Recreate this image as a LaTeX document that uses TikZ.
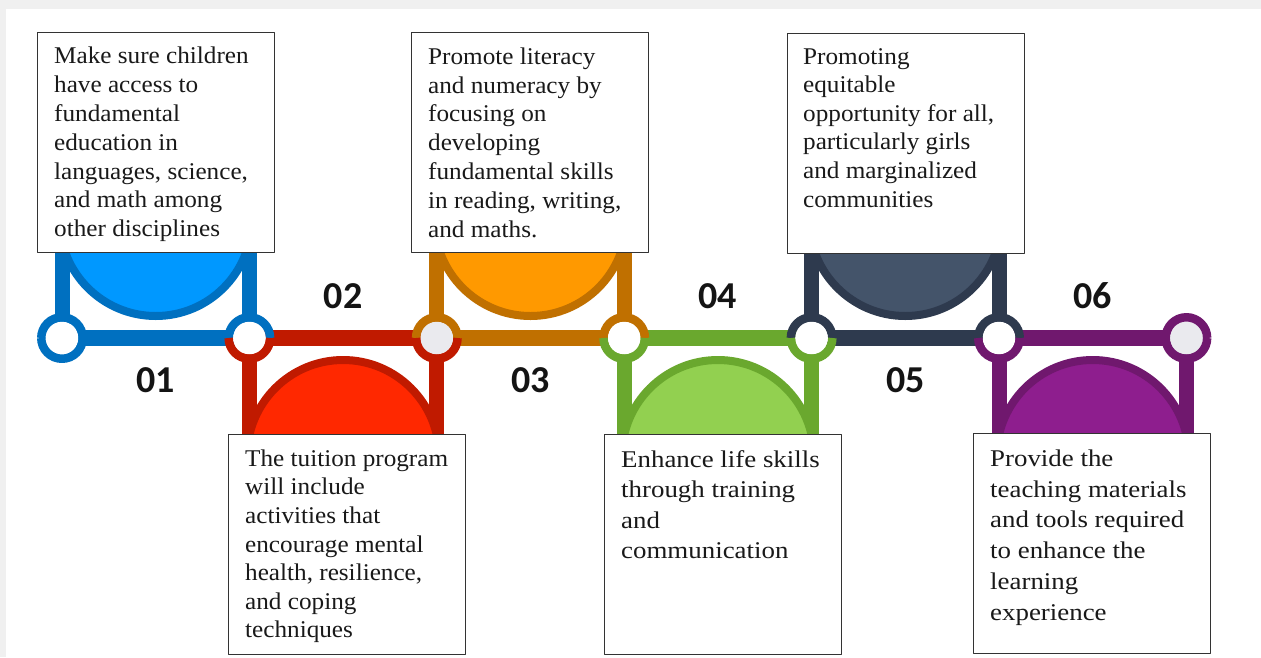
\documentclass[tikz,border=0pt]{standalone}
\usepackage{fontspec}
\setmainfont{Liberation Serif}
\newfontfamily\numfont{Carlito}
\newfontfamily\cambfont[FakeStretch=1.05]{Liberation Serif}
\newfontfamily\timesfont[FakeStretch=1.12]{Liberation Serif}
\usetikzlibrary{calc}

\definecolor{blueD}{RGB}{0,112,192}
\definecolor{blueL}{RGB}{0,152,255}
\definecolor{redD}{RGB}{192,26,0}
\definecolor{redL}{RGB}{255,40,0}
\definecolor{orangeD}{RGB}{192,112,0}
\definecolor{orangeL}{RGB}{255,153,0}
\definecolor{greenD}{RGB}{106,168,46}
\definecolor{greenL}{RGB}{146,208,80}
\definecolor{slateD}{RGB}{46,58,78}
\definecolor{slateL}{RGB}{68,84,106}
\definecolor{purpleD}{RGB}{112,24,110}
\definecolor{purpleL}{RGB}{142,30,142}
\definecolor{hole}{RGB}{234,234,238}

\begin{document}
\begin{tikzpicture}[x=1pt, y=-1pt, line join=round,
	bar/.style={line width=15.5pt},
	post/.style={line width=15pt},
	ring/.style={line width=8.5pt},
	bowl/.style={line width=8pt},
	textbox/.style={draw=black!80, line width=1.2pt, fill=white, anchor=north west, inner sep=0pt, minimum width=237pt, minimum height=220pt},
	boxtext/.style={anchor=north west, align=left, inner sep=0pt, text=black!90},
	num/.style={font=\numfont\bfseries\fontsize{38}{40}\selectfont, text=black!92}]

	\fill[black!6] (0,0) rectangle (1261,657);
	\fill[white] (6,9) rectangle (1261,657);
	\useasboundingbox (0,0) rectangle (1261,657);

	\foreach \i in {0,...,6}
	\coordinate (c\i) at (62+187.4*\i,338);

	% segments: up (-1) or down (1)
	\foreach \a/\b/\cd/\cl/\s [count=\n] in {0/1/blueD/blueL/-1, 1/2/redD/redL/1, 2/3/orangeD/orangeL/-1, 3/4/greenD/greenL/1, 4/5/slateD/slateL/-1, 5/6/purpleD/purpleL/1}
	{
		\coordinate (m\n) at ($(c\a)!0.5!(c\b)$);
		\draw[bar, \cd] (c\a)--(c\b);
		\draw[post, \cd] (c\a)--++(0,\s*110) (c\b)--++(0,\s*110);
		\draw[bowl, draw=\cd, fill=\cl] ($(m\n)+(0,\s*118)$) circle (96);
		\node[num] (n\n) at ($(m\n)+(0,-\s*42)$) {0\n};
	}

	% rings: top half / bottom half
	\foreach \i/\ct/\cb/\ci in {0/blueD/blueD/white, 1/blueD/redD/white, 2/orangeD/redD/hole, 3/orangeD/greenD/white, 4/slateD/greenD/white, 5/slateD/purpleD/white, 6/purpleD/purpleD/hole}
	{
		\fill[\ci] (c\i) circle (16.5);
		\draw[ring, \ct] ([shift={(180:20.75)}]c\i) arc[start angle=180, end angle=360, radius=20.75];
		\draw[ring, \cb] ([shift={(0:20.75)}]c\i) arc[start angle=0, end angle=180, radius=20.75];
	}

	\node[textbox] (b1) at (37,32) {};
	\node[textbox] (b2) at (228,434) {};
	\node[textbox] (b3) at (411,32) {};
	\node[textbox] (b4) at (604,434) {};
	\node[textbox] (b5) at (787,33) {};
	\node[textbox] (b6) at (973,433) {};

	\node[boxtext, font=\cambfont\fontsize{24}{28.8}\selectfont] (t1) at ([shift={(17,15)}]b1.north west)
	{Make sure children\\have access to\\fundamental\\education in\\languages, science,\\and math among\\other disciplines};
	\node[boxtext, font=\cambfont\fontsize{24}{28.6}\selectfont] (t2) at ([shift={(17,15.5)}]b2.north west)
	{The tuition program\\will include\\activities that\\encourage mental\\health, resilience,\\and coping\\techniques};
	\node[boxtext, font=\cambfont\fontsize{24}{28.8}\selectfont] (t3) at ([shift={(17,15.5)}]b3.north west)
	{Promote literacy\\and numeracy by\\focusing on\\developing\\fundamental skills\\in reading, writing,\\and maths.};
	\node[boxtext, font=\timesfont\fontsize{24}{30.3}\selectfont] (t4) at ([shift={(17,16.5)}]b4.north west)
	{Enhance life skills\\through training\\and\\communication};
	\node[boxtext, font=\cambfont\fontsize{24}{28.6}\selectfont] (t5) at ([shift={(16,15)}]b5.north west)
	{Promoting\\equitable\\opportunity for all,\\particularly girls\\and marginalized\\communities};
	\node[boxtext, font=\timesfont\fontsize{24}{30.8}\selectfont] (t6) at ([shift={(17,16.5)}]b6.north west)
	{Provide the\\teaching materials\\and tools required\\to enhance the\\learning\\experience};
\end{tikzpicture}
\end{document}
